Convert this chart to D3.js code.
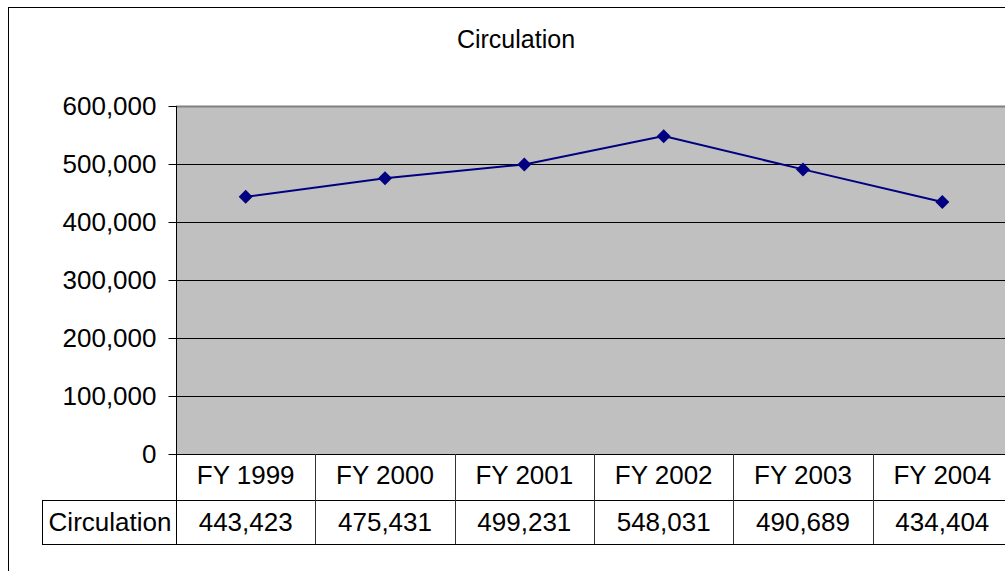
<!DOCTYPE html>
<html>
<head>
<meta charset="utf-8">
<script src="https://cdnjs.cloudflare.com/ajax/libs/d3/7.8.5/d3.min.js"></script>
<style>
  body { margin: 0; background: #fff; }
  svg text { font-family: Arial, "Liberation Sans", sans-serif; fill: #000; }
</style>
</head>
<body>
<div id="chart"></div>
<script>
var categories = ["FY 1999", "FY 2000", "FY 2001", "FY 2002", "FY 2003", "FY 2004"];
var circulation = [443423, 475431, 499231, 548031, 490689, 434404];
var yTicks = [0, 100000, 200000, 300000, 400000, 500000, 600000];
var seriesName = "Circulation";
var chartTitle = "Circulation";

var W = 1005, H = 571;
var margin = { top: 106, left: 176 };
var plotW = 836, plotH = 348;   // plot runs past the right edge like the original
var rowH = 46, row2H = 44;
var fmt = d3.format(",");

var svg = d3.select("#chart").append("svg")
    .attr("width", W).attr("height", H);

// outer chart frame (cut off on right and bottom)
svg.append("rect").attr("x", 8.5).attr("y", 7.5)
    .attr("width", W + 20).attr("height", H + 20)
    .attr("fill", "#fff").attr("stroke", "#000");

svg.append("text").attr("x", 516).attr("y", 48)
    .attr("text-anchor", "middle").style("font-size", "25px")
    .text(chartTitle);

var x = d3.scaleBand().domain(categories).range([0, plotW]);
var y = d3.scaleLinear().domain([0, 600000]).range([plotH, 0]);

var g = svg.append("g").attr("transform", "translate(" + margin.left + "," + margin.top + ")");

// plot area
g.append("rect").attr("x", 0).attr("y", 0).attr("width", plotW).attr("height", plotH)
    .attr("fill", "#c0c0c0");
g.append("line").attr("x1", 0).attr("x2", plotW).attr("y1", 0.5).attr("y2", 0.5)
    .attr("stroke", "#808080").attr("stroke-width", 2);

// gridlines
g.selectAll(".grid").data(yTicks.filter(d => d > 0 && d < 600000)).enter()
    .append("line").attr("class", "grid")
    .attr("x1", 0).attr("x2", plotW)
    .attr("y1", d => Math.round(y(d)) + 0.5).attr("y2", d => Math.round(y(d)) + 0.5)
    .attr("stroke", "#000");

// y axis
var yAxis = g.append("g").attr("transform", "translate(0.5,0)")
    .call(d3.axisLeft(y).tickValues(yTicks).tickFormat(fmt).tickSize(8).tickPadding(12));
yAxis.select(".domain").remove();
yAxis.selectAll(".tick line").attr("stroke", "#000");
yAxis.selectAll(".tick text").style("font-size", "26px").attr("fill", "#000");
g.append("line").attr("x1", 0.5).attr("x2", 0.5).attr("y1", 0).attr("y2", plotH + rowH + row2H)
    .attr("stroke", "#000");

// line + markers
var line = d3.line().x((d, i) => x(categories[i]) + x.bandwidth() / 2).y(d => y(d));
g.append("path").datum(circulation).attr("d", line)
    .attr("fill", "none").attr("stroke", "#000080").attr("stroke-width", 2);
g.selectAll(".pt").data(circulation).enter().append("path").attr("class", "pt")
    .attr("transform", (d, i) => "translate(" + (x(categories[i]) + x.bandwidth() / 2) + "," + y(d) + ")")
    .attr("d", "M0,-7L7,0L0,7L-7,0Z")
    .attr("fill", "#000080");

// data table
var t = g.append("g").attr("transform", "translate(0," + plotH + ")");
t.append("line").attr("x1", 0).attr("x2", plotW).attr("y1", 0.5).attr("y2", 0.5).attr("stroke", "#000");
t.append("line").attr("x1", -134).attr("x2", plotW).attr("y1", rowH + 0.5).attr("y2", rowH + 0.5).attr("stroke", "#000");
t.append("line").attr("x1", -134).attr("x2", plotW).attr("y1", rowH + row2H + 0.5).attr("y2", rowH + row2H + 0.5).attr("stroke", "#000");
t.append("line").attr("x1", -133.5).attr("x2", -133.5).attr("y1", rowH).attr("y2", rowH + row2H).attr("stroke", "#000");
t.selectAll(".sep").data(categories.slice(1)).enter().append("line").attr("class", "sep")
    .attr("x1", d => Math.round(x(d)) + 0.5).attr("x2", d => Math.round(x(d)) + 0.5)
    .attr("y1", 0).attr("y2", rowH + row2H).attr("stroke", "#333");

t.selectAll(".cat").data(categories).enter().append("text").attr("class", "cat")
    .attr("x", d => x(d) + x.bandwidth() / 2).attr("y", 30)
    .attr("text-anchor", "middle").style("font-size", "26px")
    .text(d => d);
t.selectAll(".val").data(circulation).enter().append("text").attr("class", "val")
    .attr("x", (d, i) => x(categories[i]) + x.bandwidth() / 2).attr("y", rowH + 31)
    .attr("text-anchor", "middle").style("font-size", "26px")
    .text(d => fmt(d));
t.append("text").attr("x", -66).attr("y", rowH + 31)
    .attr("text-anchor", "middle").style("font-size", "26px")
    .text(seriesName);
</script>
</body>
</html>
